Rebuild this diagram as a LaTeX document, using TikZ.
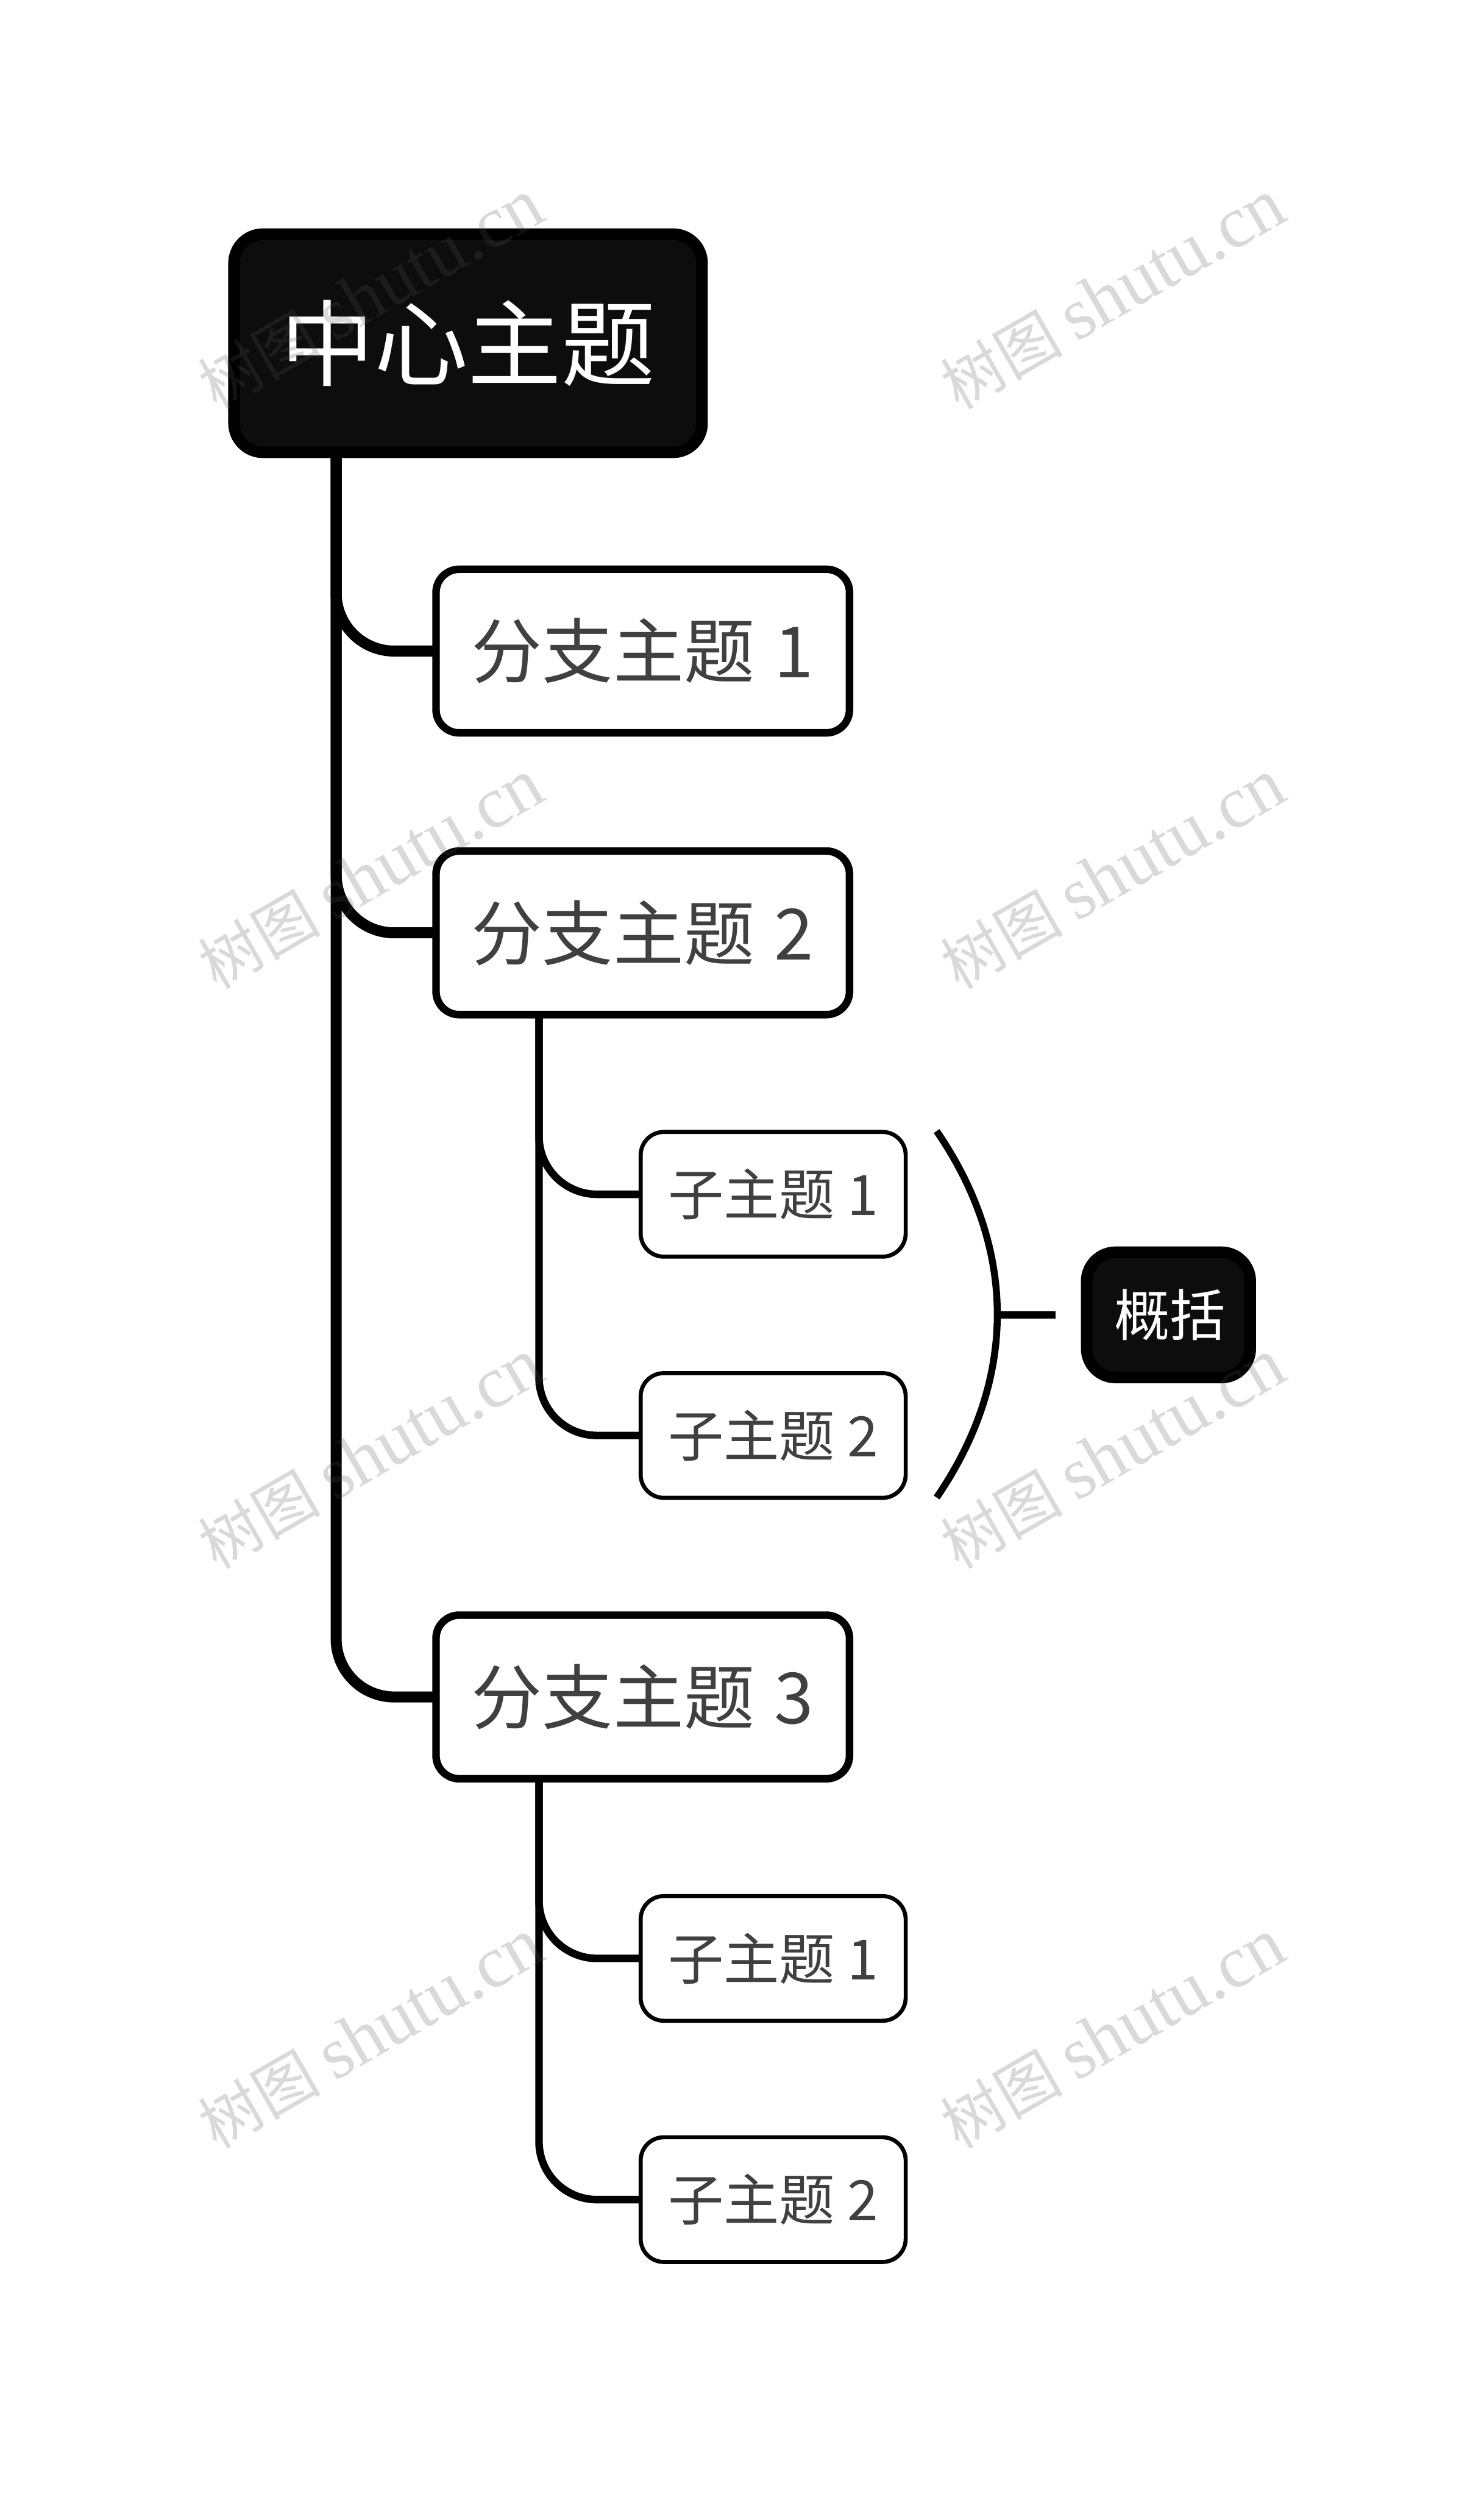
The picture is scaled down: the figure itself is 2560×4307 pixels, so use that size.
\documentclass[tikz,border=0pt]{standalone}
\usepackage{fontspec}
\setmainfont{Noto Sans CJK SC}
\newfontfamily\wmlatin{Liberation Serif}
\definecolor{rootfill}{HTML}{0D0D0D}
\definecolor{labelgray}{HTML}{404040}
\definecolor{wmgray}{HTML}{525252}

\begin{document}
\begin{tikzpicture}
  [x=0.01cm,y=-0.01cm,
   darkbox/.style={shape=rectangle,rounded corners=0.5cm,draw=black,fill=rootfill,text=white,inner sep=0pt,outer sep=0pt,line width=0.2cm},
   rootbox/.style={darkbox,minimum width=8.07cm,minimum height=3.76cm,font=\fontsize{46}{50}\selectfont},
   summarybox/.style={darkbox,minimum width=2.82cm,minimum height=2.16cm,font=\fontsize{27.3}{30}\selectfont},
   branchbox/.style={shape=rectangle,rounded corners=0.4cm,draw=black,fill=white,text=labelgray,inner sep=0pt,outer sep=0pt,line width=0.13cm,minimum width=7.13cm,minimum height=2.82cm,font=\fontsize{34.7}{38}\selectfont},
   subbox/.style={shape=rectangle,rounded corners=0.4cm,draw=black,fill=white,text=labelgray,inner sep=0pt,outer sep=0pt,line width=0.07cm,minimum width=4.57cm,minimum height=2.15cm,font=\fontsize{27.3}{30}\selectfont},
   trunkline/.style={draw=black,line width=0.19cm,rounded corners=1cm},
   subline/.style={draw=black,line width=0.13cm,rounded corners=1cm},
   wmark/.style={rotate=30,text=wmgray,text opacity=0.22,inner sep=0pt,font=\fontsize{30}{34}\selectfont}]
\path[fill=white,use as bounding box] (0,0) rectangle (2560,4307);
\node[rootbox] (root) at (807.5,592) {中心主题};
\foreach \b/\y in {1/1123,2/1609,3/2927}
   \node[branchbox] (b\b) at (1109,\y) {分支主题\hspace{0.06em} \b};
\foreach \b/\y in {2/2060,3/3378} \foreach \s/\d in {1/0,2/416}
   \node[subbox] (s\b\s) at (1334,\y+\d) {子主题 \s};
\node[summarybox] (summary) at (2016,2268) {\hspace{0.05cm}概括};
\coordinate (rootfoot) at (580,780);
\coordinate (b2foot) at (930,1750);
\coordinate (b3foot) at (930,3068);
\coordinate (bracetop) at (1616,1951);
\coordinate (bracebot) at (1616,2583);
\coordinate (bracemid) at (1719,2268);
\foreach \b in {1,2,3}
   \draw[trunkline] (rootfoot) |- (b\b.west);
\foreach \b in {2,3} \foreach \s in {1,2}
   \draw[subline] (b\b foot) |- (s\b\s.west);
\draw[black,line width=0.12cm] (bracetop) to[bend left=34.5] (bracebot);
\draw[black,line width=0.13cm,shorten >=0.54cm] (bracemid) -- (summary);
\foreach \x/\xpos in {1/640,2/1920} \foreach \y/\ypos in {1/508,2/1508,3/2508,4/3508}
   \node[wmark] (wm\x\y) at (\xpos,\ypos) {树图 {\wmlatin\fontsize{36}{40}\selectfont shutu.cn}};
\end{tikzpicture}
\end{document}
